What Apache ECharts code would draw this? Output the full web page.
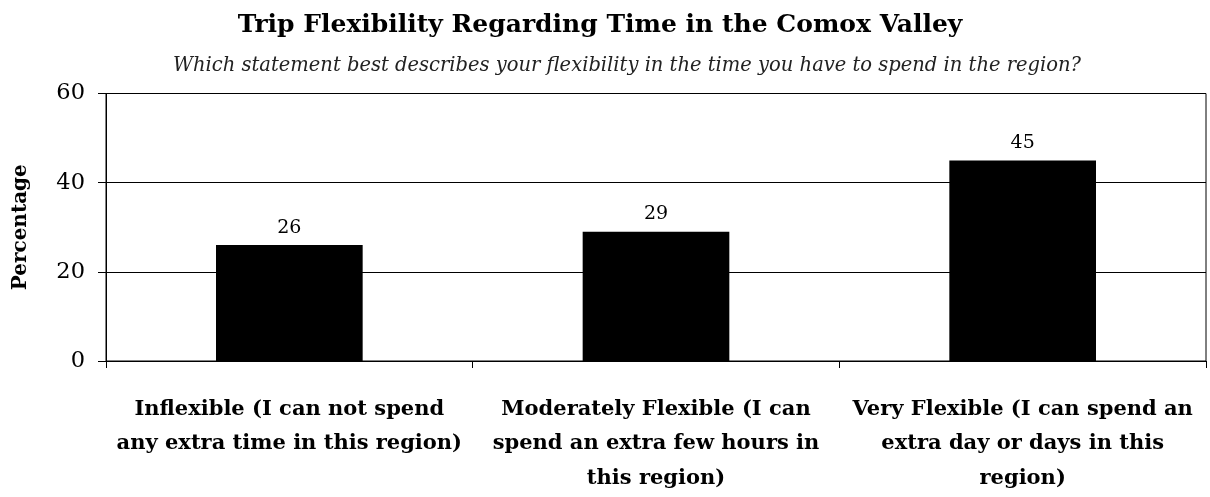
<!DOCTYPE html>
<html>
<head>
<meta charset="utf-8">
<script src="https://cdn.jsdelivr.net/npm/echarts@6/dist/echarts.min.js"></script>
<style>
  html, body { margin: 0; padding: 0; background: #fff; }
  #main { width: 1210px; height: 497px; }
</style>
</head>
<body>
<div id="main"></div>
<script>
var categories = [
  'Inflexible (I can not spend\nany extra time in this region)',
  'Moderately Flexible (I can\nspend an extra few hours in\nthis region)',
  'Very Flexible (I can spend an\nextra day or days in this\nregion)'
];
var percentages = [26, 29, 45];
var yTicks = [0, 20, 40, 60];

var font = 'DejaVu Serif';
var chart = echarts.init(document.getElementById('main'));
chart.setOption({
  backgroundColor: '#fff',
  animation: false,
  title: [{
    text: 'Trip Flexibility Regarding Time in the Comox Valley',
    left: 595,
    textAlign: 'center',
    top: 8,
    textStyle: { fontFamily: font, fontSize: 25, fontWeight: 'bold', color: '#000' }
  }, {
    text: 'Which statement best describes your flexibility in the time you have to spend in the region?',
    left: 622,
    textAlign: 'center',
    top: 51,
    textStyle: { fontFamily: font, fontSize: 19.5, fontStyle: 'italic', fontWeight: 'normal', color: '#222' }
  }],
  grid: {
    left: 106,
    right: 4,
    top: 93.5,
    bottom: 136,
    show: true,
    borderColor: '#000',
    borderWidth: 1
  },
  xAxis: {
    type: 'category',
    data: categories,
    axisLine: { lineStyle: { color: '#000' } },
    axisTick: { show: true, length: 7, lineStyle: { color: '#000' } },
    axisLabel: {
      interval: 0,
      margin: 31,
      fontFamily: font,
      fontSize: 21,
      fontWeight: 'bold',
      color: '#000',
      lineHeight: 34.5
    }
  },
  yAxis: {
    type: 'value',
    min: yTicks[0],
    max: yTicks[yTicks.length - 1],
    interval: 20,
    name: 'Percentage',
    nameLocation: 'middle',
    nameGap: 75,
    nameTextStyle: { fontFamily: font, fontSize: 20, fontWeight: 'bold', color: '#000' },
    axisLine: { show: true, lineStyle: { color: '#000' } },
    axisTick: { show: true, length: 8, lineStyle: { color: '#000' } },
    axisLabel: { fontFamily: font, fontSize: 22.5, color: '#000', margin: 21 },
    splitLine: { lineStyle: { color: '#000' } }
  },
  series: [{
    type: 'bar',
    data: percentages,
    barWidth: '40%',
    itemStyle: { color: '#000' },
    label: {
      show: true,
      position: 'top',
      distance: 8,
      fontFamily: font,
      fontSize: 19,
      color: '#000'
    }
  }]
});
</script>
</body>
</html>
